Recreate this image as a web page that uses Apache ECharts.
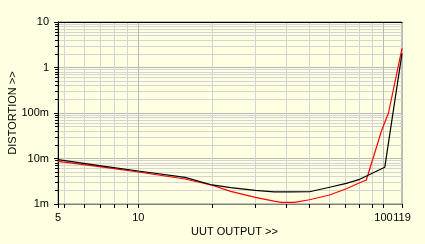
<!DOCTYPE html>
<html><head><meta charset="utf-8">
<script src="https://cdn.jsdelivr.net/npm/echarts@6/dist/echarts.min.js"></script>
<style>html,body{margin:0;padding:0;background:#ffffe1;}#c{width:425px;height:244px;}</style>
</head><body><div id="c"></div>
<script>
// X axis range and tick labels
const xMin = 4.7, xMax = 119;
const xTickValues = [4.7, 10, 100, 119];
const xTickLabels = ['5', '10', '100', '119'];
// Y axis range and tick labels
const yMin = 0.001, yMax = 10;
const yTickValues = [0.001, 0.01, 0.1, 1, 10];
const yTickLabels = ['1m', '10m', '100m', '1', '10'];

// Black series
const blackX = [4.7, 6.94, 10, 15.5, 20, 23.8, 30, 35.8, 42, 49.9, 60.3, 70.5, 80, 86.5, 101.2, 102.9, 119];
const blackY = [0.00942, 0.00695, 0.00531, 0.00386, 0.00262, 0.00228, 0.0020, 0.00184, 0.00184, 0.00186, 0.00233, 0.00285, 0.00349, 0.00427, 0.00641, 0.00684, 2.05];
// Red series
const redX = [4.7, 6.94, 10, 15.5, 20, 23.8, 30, 35.8, 38.3, 43.3, 49.9, 60.3, 70.5, 80, 85.1, 91.0, 98.1, 104.8, 119];
const redY = [0.00867, 0.00661, 0.00505, 0.00354, 0.00258, 0.00190, 0.00140, 0.00116, 0.00109, 0.00109, 0.00124, 0.00158, 0.00217, 0.00294, 0.00337, 0.0108, 0.0402, 0.100, 2.64];

function lookup(vals, labels, v) {
  for (let i = 0; i < vals.length; i++) {
    if (Math.abs(Math.log10(v) - Math.log10(vals[i])) < 0.004) return labels[i];
  }
  return '';
}
const font = 'Liberation Sans';
const chart = echarts.init(document.getElementById('c'));
chart.setOption({
  backgroundColor: '#ffffe1',
  animation: false,
  grid: { left: 58, top: 22, right: 23, bottom: 40, containLabel: false, outerBoundsMode: 'none',
    show: true, borderColor: '#808080', borderWidth: 1, backgroundColor: '#ffffe1' },
  xAxis: [{
    type: 'log', min: xMin, max: xMax, logBase: 10,
    name: 'UUT OUTPUT >>', nameLocation: 'middle', nameGap: 22, nameMoveOverlap: false,
    nameTextStyle: { fontFamily: font, fontSize: 11, color: '#000', padding: [0, 0, 0, 9] },
    axisLine: { show: true, lineStyle: { color: '#808080', width: 1 } },
    axisTick: { show: true, inside: false, length: 4, lineStyle: { color: '#000' } },
    minorTick: { show: true, splitNumber: 9, length: 4, lineStyle: { color: '#000' } },
    splitLine: { show: true, lineStyle: { color: '#b8b8b8', width: 1 } },
    minorSplitLine: { show: true, lineStyle: { color: '#d4d4d4', width: 1 } },
    axisLabel: { fontFamily: font, fontSize: 11, color: '#000', margin: 8, showMinLabel: true, showMaxLabel: true,
      formatter: v => lookup(xTickValues, xTickLabels, v) }
  }, {
    type: 'log', min: xMin, max: xMax, position: 'top',
    axisLine: { show: true, lineStyle: { color: '#000', width: 1 } },
    axisTick: { show: false }, axisLabel: { show: false }, splitLine: { show: false }
  }],
  yAxis: [{
    type: 'log', min: yMin, max: yMax, logBase: 10,
    name: 'DISTORTION >>', nameLocation: 'middle', nameGap: 40, nameMoveOverlap: false,
    nameTextStyle: { fontFamily: font, fontSize: 11, color: '#000' },
    axisLine: { show: true, lineStyle: { color: '#000', width: 1 } },
    axisTick: { show: true, inside: false, length: 4, lineStyle: { color: '#000' } },
    minorTick: { show: true, splitNumber: 9, length: 3, lineStyle: { color: '#000' } },
    splitLine: { show: true, lineStyle: { color: '#b8b8b8', width: 1 } },
    minorSplitLine: { show: true, lineStyle: { color: '#d4d4d4', width: 1 } },
    axisLabel: { fontFamily: font, fontSize: 11, color: '#000', margin: 9,
      formatter: v => lookup(yTickValues, yTickLabels, v) }
  }],
  series: [
    { type: 'line', name: 'red', data: redX.map((x, i) => [x, redY[i]]), symbol: 'none', smooth: false,
      lineStyle: { color: '#ff0000', width: 1.2 }, z: 3 },
    { type: 'line', name: 'black', data: blackX.map((x, i) => [x, blackY[i]]), symbol: 'none', smooth: false,
      lineStyle: { color: '#000000', width: 1.2 }, z: 4 }
  ]
});
</script></body></html>
